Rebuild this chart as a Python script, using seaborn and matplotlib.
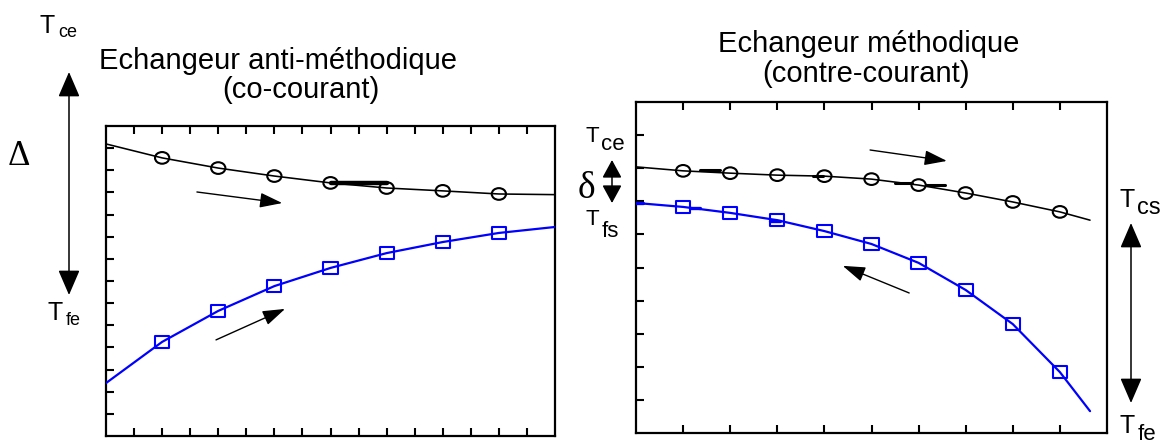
import numpy as np
import pandas as pd
import matplotlib
matplotlib.use("Agg")
import matplotlib.pyplot as plt
import seaborn as sns
from matplotlib.path import Path
from matplotlib.transforms import Affine2D

# ---------------- data ----------------
# Left panel: co-current (anti-méthodique)
left_x = [0, 1, 2, 3, 4, 5, 6, 7, 8]
left_hot = [13.19, 12.56, 12.10, 11.74, 11.43, 11.20, 11.07, 10.93, 10.90]
left_cold = [2.39, 4.25, 5.65, 6.77, 7.59, 8.26, 8.76, 9.17, 9.44]
left_marker_idx = [1, 2, 3, 4, 5, 6, 7]
left_bar_x = [4.0, 5.0]
left_bar_y = [11.43, 11.43]

# Right panel: counter-current (méthodique)
right_x = [0, 1, 2, 3, 4, 5, 6, 7, 8, 9, 9.64]
right_hot = [8.04, 7.92, 7.85, 7.79, 7.76, 7.67, 7.49, 7.25, 6.98, 6.68, 6.43]
right_cold = [6.95, 6.83, 6.65, 6.43, 6.10, 5.71, 5.14, 4.32, 3.29, 1.84, 0.66]
right_marker_idx = [1, 2, 3, 4, 5, 6, 7, 8, 9]
right_hot_dash_x = [[1.36, 1.78], [3.76, 3.97], [5.50, 5.86], [6.16, 6.56]]
right_hot_dash_y = [[7.95, 7.95], [7.76, 7.76], [7.55, 7.55], [7.49, 7.49]]
right_cold_dash_x = [[0.0, 0.15], [1.15, 1.36], [2.85, 3.06]]
right_cold_dash_y = [[6.95, 6.95], [6.80, 6.80], [6.40, 6.40]]

W, H = 1160, 447

sns.set_theme(style="white")
plt.rcParams["font.family"] = ["Liberation Sans", "DejaVu Sans"]

fig = plt.figure(figsize=(W / 100, H / 100), dpi=100)

def px_axes(l, t, r, b):
    return fig.add_axes([l / W, 1 - b / H, (r - l) / W, (b - t) / H])

ax1 = px_axes(106, 126, 555, 436)
ax2 = px_axes(636, 102, 1107, 433)

ellipse = Path.unit_circle().transformed(Affine2D().scale(1.0, 0.82))
rect = Path([(-1, -0.85), (1, -0.85), (1, 0.85), (-1, 0.85), (-1, -0.85)],
            [Path.MOVETO, Path.LINETO, Path.LINETO, Path.LINETO, Path.CLOSEPOLY])

BLUE = "#0000ff"

def draw_panel(ax, x, hot, cold, idx):
    dfh = pd.DataFrame({"x": x, "y": hot})
    dfc = pd.DataFrame({"x": x, "y": cold})
    sns.lineplot(data=dfh, x="x", y="y", ax=ax, color="black", lw=1.15,
                 estimator=None, sort=False, zorder=3)
    sns.lineplot(data=dfc, x="x", y="y", ax=ax, color=BLUE, lw=1.6,
                 estimator=None, sort=False, zorder=3)
    sns.scatterplot(data=dfh.iloc[idx], x="x", y="y", ax=ax, marker=ellipse,
                    s=105, color="black", facecolors="none", edgecolor="black",
                    linewidth=1.5, zorder=4)
    sns.scatterplot(data=dfc.iloc[idx], x="x", y="y", ax=ax, marker=rect,
                    s=105, color=BLUE, facecolors="none", edgecolor=BLUE,
                    linewidth=1.5, zorder=4)

draw_panel(ax1, left_x, left_hot, left_cold, left_marker_idx)
sns.lineplot(x=left_bar_x, y=left_bar_y, ax=ax1, color="black", lw=3.2,
             estimator=None, zorder=3)
draw_panel(ax2, right_x, right_hot, right_cold, right_marker_idx)
for xs, ys in zip(right_hot_dash_x, right_hot_dash_y):
    sns.lineplot(x=xs, y=ys, ax=ax2, color="black", lw=2.2, estimator=None, zorder=3)
for xs, ys in zip(right_cold_dash_x, right_cold_dash_y):
    sns.lineplot(x=xs, y=ys, ax=ax2, color=BLUE, lw=2.4, estimator=None, zorder=3)

ax1.set_xlim(0, 8)
ax1.set_ylim(0, 14)
ax1.set_xticks(np.arange(0.5, 8, 0.5))
ax1.set_yticks(np.arange(1, 14, 1))
ax2.set_xlim(0, 10)
ax2.set_ylim(0, 10)
ax2.set_xticks(np.arange(1, 10, 1))
ax2.set_yticks(np.arange(1, 10, 1))

for ax in (ax1, ax2):
    ax.set_xlabel("")
    ax.set_ylabel("")
    ax.set_xticklabels([])
    ax.set_yticklabels([])
    ax.tick_params(direction="in", top=True, bottom=True, left=True, right=False,
                   length=6, width=1.5, color="black")
    for sp in ax.spines.values():
        sp.set_visible(True)
        sp.set_color("black")
        sp.set_linewidth(1.6)
    ax.set_facecolor("white")
    ax.grid(False)

# ---------------- arrows ----------------
def arrow(ax, start, tip, style="-|>,head_length=0.6,head_width=0.2", ms=23, lw=1.0,
          coords="data"):
    ax.annotate("", xy=tip, xytext=start, xycoords=coords, textcoords=coords,
                arrowprops=dict(arrowstyle=style, color="black", lw=lw,
                                mutation_scale=ms, shrinkA=0, shrinkB=0),
                annotation_clip=False)

arrow(ax1, (1.62, 11.02), (3.14, 10.52))
arrow(ax1, (1.96, 4.34), (3.19, 5.74))
arrow(ax2, (4.97, 8.55), (6.60, 8.22))
arrow(ax2, (5.80, 4.23), (4.39, 5.05))

def fpx(x, y):
    return (x / W, 1 - y / H)

big = "<|-|>,head_length=0.65,head_width=0.28"
arrow(ax1, fpx(69, 295), fpx(69, 72), style=big, ms=24, lw=1.1, coords="figure fraction")
arrow(ax1, fpx(1131, 403), fpx(1131, 223), style=big, ms=24, lw=1.1, coords="figure fraction")
arrow(ax1, fpx(612, 203), fpx(612, 160), style="<|-|>,head_length=0.55,head_width=0.3",
      ms=20, lw=1.1, coords="figure fraction")

# ---------------- texts ----------------
def ftext(x, y, s, size, ha="left", family=None):
    kw = {}
    if family:
        kw["family"] = family
    fig.text(x / W, 1 - y / H, s, fontsize=size, ha=ha, va="baseline", color="black", **kw)

ftext(278, 69, "Echangeur anti-méthodique", 21, ha="center")
ftext(301, 98, "(co-courant)", 21, ha="center")
ftext(869, 52, "Echangeur méthodique", 21, ha="center")
ftext(866.5, 82, "(contre-courant)", 21, ha="center")

ftext(40, 33, "T", 18)
ftext(58, 37, "ce", 13)
ftext(48, 320, "T", 18)
ftext(66, 325, "fe", 13)
ftext(8, 165, "Δ", 25, family=["Liberation Serif", "DejaVu Serif"])

ftext(585, 142, "T", 16)
ftext(601, 150, "ce", 16)
ftext(585, 225, "T", 16)
ftext(602, 237, "fs", 16)
ftext(578, 198, "δ", 27, family=["Liberation Serif", "DejaVu Serif"])
ftext(1120, 207, "T", 18)
ftext(1137, 214, "cs", 17)
ftext(1120, 433, "T", 18)
ftext(1138, 440, "fe", 16)

fig.savefig("out.png", dpi=100, facecolor="white")
